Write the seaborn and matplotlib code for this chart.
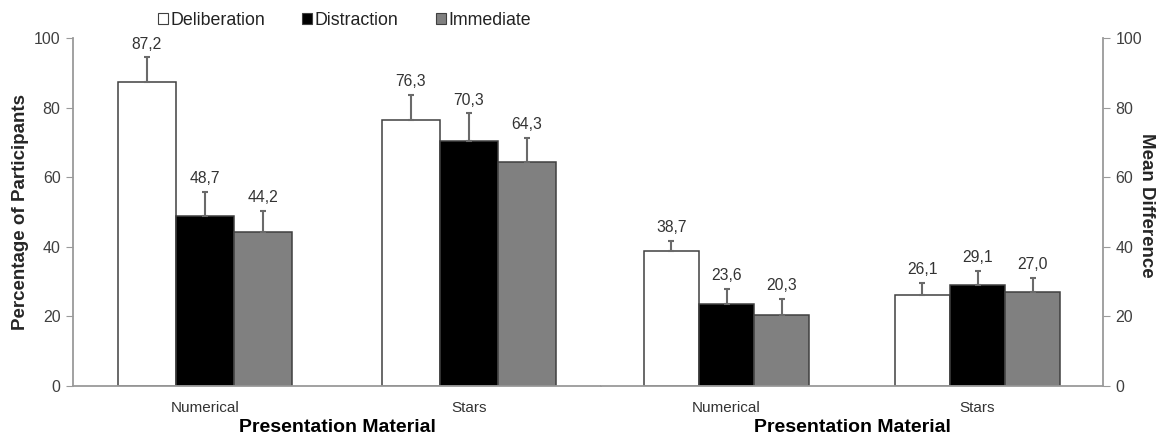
import matplotlib
matplotlib.use("Agg")
import matplotlib.pyplot as plt
import seaborn as sns
import pandas as pd
import numpy as np
from matplotlib.patches import Patch

sns.set_style("white")
plt.rcParams['font.family'] = ['Liberation Sans', 'DejaVu Sans']

groups = ["Numerical (%)", "Stars (%)", "Numerical (diff)", "Stars (diff)"]
group_labels = ["Numerical", "Stars", "Numerical", "Stars"]
panel = ["left", "left", "right", "right"]
conditions = ["Deliberation", "Distraction", "Immediate"]
deliberation = [87.2, 76.3, 38.7, 26.1]
distraction = [48.7, 70.3, 23.6, 29.1]
immediate = [44.2, 64.3, 20.3, 27.0]
err_deliberation = [7.3, 7.3, 3.0, 3.5]
err_distraction = [7.0, 8.0, 4.3, 4.0]
err_immediate = [6.1, 7.0, 4.7, 4.1]
y_ticks = [0, 20, 40, 60, 80, 100]

rows = []
for i, g in enumerate(groups):
    for c, vals, errs in zip(conditions, [deliberation, distraction, immediate],
                             [err_deliberation, err_distraction, err_immediate]):
        rows.append({"group": g, "label": group_labels[i], "panel": panel[i],
                     "condition": c, "value": vals[i], "err": errs[i]})
df = pd.DataFrame(rows)

colors = {"Deliberation": "#ffffff", "Distraction": "#000000", "Immediate": "#808080"}
spine_c = "#9a9a9a"

fig = plt.figure(figsize=(11.6, 4.36), dpi=100)
axL = fig.add_axes([73 / 1160, 0.115, (601 - 73) / 1160, 0.798])
axR = fig.add_axes([601 / 1160, 0.115, (1103 - 601) / 1160, 0.798])

for ax, side in [(axL, "left"), (axR, "right")]:
    sub = df[df["panel"] == side]
    order = [g for g, p in zip(groups, panel) if p == side]
    labels = [l for l, p in zip(group_labels, panel) if p == side]
    sns.barplot(data=sub, x="group", y="value", hue="condition", order=order,
                hue_order=conditions, palette=colors, width=0.66, errorbar=None,
                edgecolor="#404040", linewidth=1.1, ax=ax, legend=False, saturation=1)
    for p in [p for p in ax.patches if p.get_height() > 0]:
        x = p.get_x() + p.get_width() / 2
        h = p.get_height()
        e = float(sub[np.isclose(sub["value"], h)]["err"].iloc[0])
        ax.errorbar(x, h, yerr=[[0], [e]], fmt="none", ecolor="#6a6a6a",
                    elinewidth=1.5, capsize=2.2, capthick=1.5, zorder=3)
        ax.text(x, h + e + 1.6, f"{h:.1f}".replace(".", ","), ha="center", va="bottom",
                fontsize=11.3, color="#333333")
    ax.set_ylim(0, 100)
    ax.set_xlim(-0.5, 1.5)
    ax.set_xticks([-0.5, 0.5, 1.5])
    ax.set_xticklabels([])
    ax.set_xticks([0, 1], minor=True)
    ax.set_xticklabels(labels, minor=True)
    ax.tick_params(axis="x", which="minor", length=0, labelsize=11, labelcolor="#333333", pad=11)
    ax.tick_params(axis="x", which="major", length=4, color=spine_c, direction="out")
    ax.set_xlabel("")
    ax.text(0.5, -0.12, "Presentation Material", transform=ax.get_xaxis_transform(),
            ha="center", va="center", fontsize=14, fontweight="bold", color="#000000")
    for s in ["top", "left", "right"]:
        ax.spines[s].set_visible(False)
    ax.spines["bottom"].set_color(spine_c)
    ax.spines["bottom"].set_linewidth(1.3)
    ax.set_yticks(y_ticks)

axL.spines["left"].set_visible(True)
axL.spines["left"].set_color(spine_c)
axL.spines["left"].set_linewidth(1.3)
axL.tick_params(axis="y", length=5, color=spine_c, direction="out", labelsize=11.5,
                labelcolor="#404040", left=True, pad=4)
axL.set_ylabel("Percentage of Participants", fontsize=13.5, fontweight="bold", va="center")
axL.yaxis.set_label_coords(-0.100, 0.5)

axR.spines["right"].set_visible(True)
axR.spines["right"].set_color(spine_c)
axR.spines["right"].set_linewidth(1.3)
axR.yaxis.tick_right()
axR.yaxis.set_label_position("right")
axR.tick_params(axis="y", length=5, color=spine_c, direction="out", labelsize=11.5,
                labelcolor="#404040", right=True, left=False, pad=4)
axR.set_ylabel("Mean Difference", fontsize=13.5, fontweight="bold", rotation=270, va="center")
axR.yaxis.set_label_coords((1147 - 601) / 502, 0.52)

handles = [Patch(facecolor=colors[c], edgecolor="#404040", linewidth=0.8) for c in conditions]
fig.legend(handles, conditions, loc="center", bbox_to_anchor=(0.297, 0.954), ncol=3,
           frameon=False, fontsize=12.8, handlelength=0.55, handleheight=0.55,
           handletextpad=0.15, columnspacing=2.1, labelcolor="#222222")

fig.savefig("out.png", dpi=100)
